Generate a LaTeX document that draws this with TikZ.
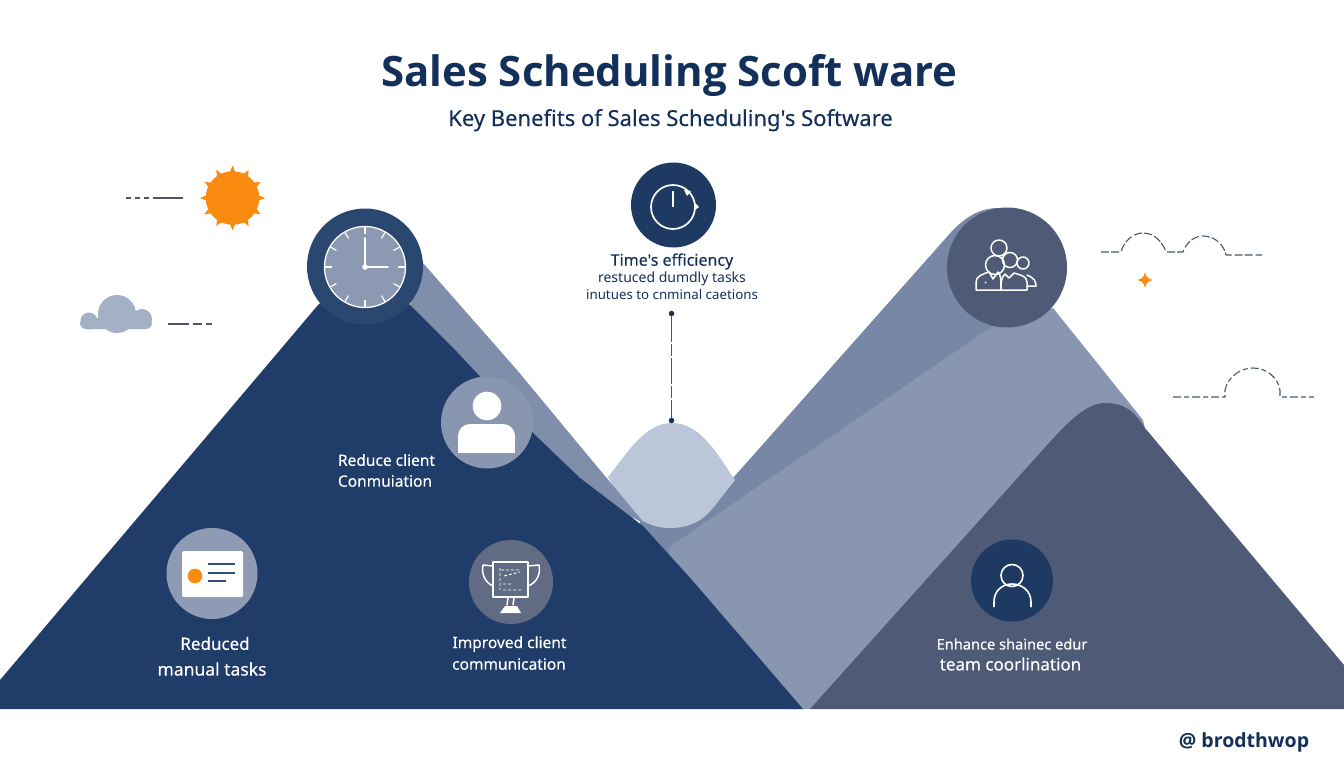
\documentclass[tikz,border=0pt]{standalone}
\usepackage{fontspec}
\setmainfont{Noto Sans}
\newfontfamily\titlef{Open Sans}
\newfontfamily\medf[FakeBold=0.25]{Noto Sans}
\definecolor{navy}{HTML}{1F3D68}
\definecolor{ink}{HTML}{12305A}
\definecolor{bandL}{HTML}{7F8EAA}
\definecolor{bandB}{HTML}{7688A6}
\definecolor{lightM}{HTML}{8996B0}
\definecolor{grayM}{HTML}{4F5B76}
\definecolor{hump}{HTML}{BCC6D9}
\definecolor{sun}{HTML}{F98C10}
\definecolor{dashc}{HTML}{4A566E}
\tikzset{
  disc/.style={circle,inner sep=0pt,minimum size=#1},
  wl/.style={draw=white,line width=1.5pt,line cap=round,line join=round},
  lab/.style={text=white,align=center,inner sep=0pt,font=\medf\fontsize{15.5}{20}\selectfont},
  deco/.style={draw=dashc,line width=1.1pt}
}
\begin{document}
\begin{tikzpicture}[x=1pt,y=-1pt]
\useasboundingbox (0,0) rectangle (1344,768);
% back band (right)
\fill[bandB] (640,510) -- (733,478) -- (953,230) .. controls (968,215) and (982,208) .. (998,208) -- (1007,267) -- (1000,330) -- (668,560) -- (640,560) -- cycle;
% lighter right mountain
\fill[lightM] (668,548) -- (990,328) -- (1053,308) -- (1143,420) -- (1150,450) -- (810,709) -- (790,709) -- (680,590) -- cycle;
% hump
\fill[hump] (608,477) .. controls (628,452) and (645,423) .. (672,423) .. controls (700,423) and (716,452) .. (735,480) -- (713,508) .. controls (700,524) and (685,528) .. (670,528) .. controls (655,528) and (640,522) .. (625,508) -- cycle;
% left band
\fill[bandL] (423,263) -- (517,370) -- (580,446) -- (645,524) -- (560,480) -- (410,305) -- cycle;
% dark left mountain
\fill[navy] (0,709) -- (0,680) -- (280,350) -- (318,305) -- (365,265) -- (410,305) -- (457,352) -- (533,433) -- (580,478) -- (643,526) -- (692,580) -- (803,709) -- cycle;
% gray mountain
\fill[grayM] (810,709) -- (1040,453) .. controls (1065,425) and (1085,403) .. (1105,403) .. controls (1125,403) and (1135,412) .. (1145,428) -- (1344,665) -- (1344,709) -- cycle;

% title
\node[text=ink,inner sep=0pt,anchor=base,font=\titlef\bfseries\fontsize{41.9}{50}\selectfont] (title) at (669.5,86) {Sales Scheduling Scoft ware};
\node[text=ink,inner sep=0pt,anchor=base,font=\medf\fontsize{22}{26}\selectfont] (sub) at (670.5,126) {Key Benefits of Sales Scheduling's Software};

% sun
\begin{scope}[shift={(232.5,198)}]
\foreach \a in {0,30,...,330} \fill[sun] ({\a-6}:26) -- (\a:32.5) -- ({\a+6}:26) -- cycle;
\fill[sun] (0,0) circle (26.8);
\end{scope}
\coordinate (sa) at (126,198); \coordinate (sb) at (183,198);
\draw[deco,dash pattern=on 5pt off 4pt on 5pt off 4pt on 5pt off 4pt on 30pt] (sa) -- (sb);
% cloud
\fill[rounded corners=6pt,fill=hump!60!bandL] (80,329) -- (80,318) -- (152,318) -- (152,329) -- cycle;
\fill[hump!60!bandL] (89,321) circle (8.5) (117,314) circle (19) (142,319) circle (10);
\coordinate (ca) at (168,324); \coordinate (cb) at (212,324);
\draw[deco,dash pattern=on 21pt off 4pt on 9pt off 4pt on 6pt] (ca) -- (cb);

% clock
\node[disc=116pt,fill=navy!95!white] (clockd) at (365,266.5) {};
\node[disc=81pt,fill=bandL!90!white,draw=white,line width=1.3pt] (clockf) at (365,267) {};
\begin{scope}[shift={(365,267)}]
\foreach \a in {0,30,...,330} \draw[white,line width=1.2pt] (\a:33) -- (\a:40);
\draw[white,line width=1.8pt,line cap=round] (0,0) -- (0,-29) (0,0) -- (23,0);
\fill[white] (0,0) circle (2.8);
\end{scope}

% top icon
\node[disc=85pt,fill=ink!95!white] (topd) at (673.5,205) {};
\draw[white,line width=1.7pt] (673,207) circle (22);
\draw[white,line width=2.2pt] (673,191) -- (673,207);
\fill[white] (684,190) -- (691,191) -- (687,196) -- cycle (695,203) -- (699,207) -- (695,210) -- cycle;
\node[text=ink,inner sep=0pt,font=\medf\fontsize{16}{20}\selectfont] (t1) at (672,261.5) {Time's efficiency};
\node[text=ink,inner sep=0pt,font=\fontsize{14}{16}\selectfont] (t2) at (672,279) {restuced dumdly tasks};
\node[text=ink,inner sep=0pt,font=\fontsize{13.3}{16}\selectfont] (t3) at (672,295) {inutues to cnminal caetions};
\node[disc=5.5pt,fill=ink] (d1) at (671.5,313.5) {};
\node[disc=5.5pt,fill=ink] (d2) at (671.5,420.5) {};
\draw[deco,dash pattern=on 26pt off 2pt on 12pt off 2pt] (d1) -- (d2);

% team
\node[disc=120pt,fill=grayM] (teamd) at (1007,267.5) {};
\begin{scope}[wl]
\draw (999,248) circle (8);
\draw (995,265) circle (9.5);
\draw (1010,260) circle (7.5);
\draw (1023,263) circle (6);
\draw (976,290) -- (976,282) .. controls (976,276) and (983,274) .. (989,272) -- (993,279) -- (998,272) .. controls (1001,275) and (1001,280) .. (1001,290) -- cycle;
\draw (1001,290) -- (1027,290) -- (1027,282) .. controls (1027,276) and (1020,275) .. (1014,273) -- (1009,278) -- (1005,274) .. controls (1002,277) and (1001,280) .. (1001,290);
\draw (1027,275) .. controls (1034,278) and (1036,281) .. (1036,286) -- (1027,286);
\end{scope}
\fill[white] (985.5,282.5) circle (1);

% person
\node[disc=92pt,fill=lightM] (persd) at (487,422.5) {};
\fill[white] (487,406) circle (14.3);
\fill[white,rounded corners=12pt] (458,452.5) -- (458,424) -- (515,424) -- (515,452.5) -- cycle;
\fill[white] (458,440) rectangle (515,452.5);
\node[lab] (l1) at (386.5,460) {Reduce client};
\node[lab] (l2) at (385,481) {Conmuiation};

% card
\node[disc=91pt,fill=lightM!95!white] (cardd) at (212,573.5) {};
\fill[white,rounded corners=1.5pt] (182,551) rectangle (243,597);
\fill[sun] (195,576) circle (7.3);
\draw[navy!90!white,line width=1.8pt] (208,564) -- (235,564) (208,573) -- (235,573) (208,581) -- (226,581);
\node[lab,font=\medf\fontsize{17}{22}\selectfont] (c1) at (215,643.5) {Reduced};
\node[lab,font=\medf\fontsize{17.5}{22}\selectfont] (c2) at (212,669) {manual tasks};

% trophy
\node[disc=84pt,fill=grayM!90!white] (trod) at (511,582) {};
\begin{scope}[wl]
\draw (493,562) rectangle (528,597);
\draw (493,566) -- (483,565) .. controls (481,575) and (486,583) .. (493,586);
\draw (528,566) -- (539,565) .. controls (541,575) and (536,583) .. (528,586);
\draw (508,598) -- (507,605) (514,598) -- (513,605);
\end{scope}
\fill[white] (505,606) -- (517,606) -- (521,613) -- (500,613) -- cycle;
\draw[white,line width=0.9pt,dash pattern=on 3pt off 2pt] (501,570) -- (520,570) (504,576) -- (520,572) (500,568) -- (500,590) (503,584) -- (512,584) (503,590) -- (522,590);
\node[lab] (i1) at (509.5,644) {Improved client};
\node[lab] (i2) at (509,664) {communication};

% lower right person
\node[disc=82pt,fill=ink!95!white] (endd) at (1012,580.5) {};
\draw[white,line width=1.6pt] (1012,575.5) circle (11);
\draw[white,line width=1.6pt] (994,607) -- (994,602) .. controls (994,590) and (1003,584) .. (1012,584) .. controls (1021,584) and (1031,590) .. (1031,602) -- (1031,607);
\node[lab,font=\medf\fontsize{14.6}{20}\selectfont] (e1) at (1012,644) {Enhance shainec edur};
\node[lab,font=\medf\fontsize{17}{20}\selectfont] (e2) at (1010.5,664) {team coorlination};

% right dashed skylines
\coordinate (ra) at (1101,252); \coordinate (rb) at (1262,255);
\draw[deco,dash pattern=on 8pt off 2pt on 8pt off 3pt] (ra) -- (1121,252) .. controls (1124,241) and (1133,233) .. (1143,233) .. controls (1155,233) and (1163,243) .. (1166,252) -- (1183,252) .. controls (1186,243) and (1194,236) .. (1203,236) .. controls (1215,236) and (1224,245) .. (1226,255) -- (rb);
\coordinate (rc) at (1173,397); \coordinate (rd) at (1314,397);
\draw[deco,dash pattern=on 8pt off 3pt on 5pt off 3pt] (rc) -- (1225,397) -- (1225,390) .. controls (1228,377) and (1240,368) .. (1253,368) .. controls (1267,368) and (1278,378) .. (1280,390) -- (1280,397) -- (rd);
\fill[sun] (1145,272) .. controls (1146,277) and (1148,279) .. (1153,280) .. controls (1148,281) and (1146,283) .. (1145,288) .. controls (1144,283) and (1142,281) .. (1137,280) .. controls (1142,279) and (1144,277) .. (1145,272) -- cycle;

% watermark
\node[text=ink,inner sep=0pt,anchor=base,font=\titlef\bfseries\fontsize{19.5}{24}\selectfont] (wm) at (1244,747) {@ brodthwop};
\end{tikzpicture}
\end{document}
